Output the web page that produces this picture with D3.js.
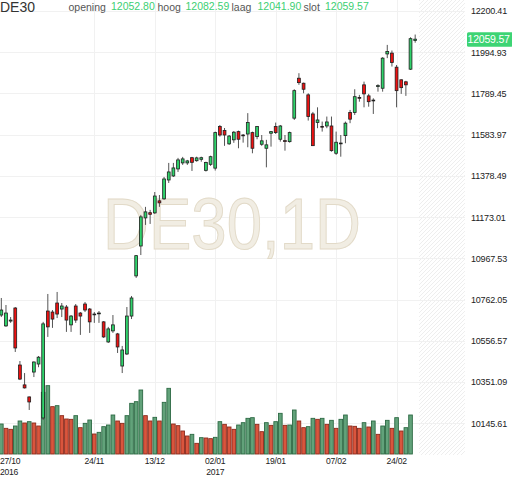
<!DOCTYPE html>
<html><head><meta charset="utf-8">
<script src="https://cdn.jsdelivr.net/npm/d3@7"></script>
<style>body{margin:0;background:#fff}svg{display:block;font-family:"Liberation Sans",Arial,sans-serif}</style>
</head><body><svg id="c" width="512" height="477"></svg>
<script>
const dates = ["27/10","28/10","31/10","01/11","02/11","03/11","04/11","07/11","08/11","09/11",
"10/11","11/11","14/11","15/11","16/11","17/11","18/11","21/11","22/11","23/11",
"24/11","25/11","28/11","29/11","30/11","01/12","02/12","05/12","06/12","07/12",
"08/12","09/12","12/12","13/12","14/12","15/12","16/12","19/12","20/12","21/12",
"22/12","23/12","27/12","28/12","29/12","30/12","02/01","03/01","04/01","05/01",
"06/01","09/01","10/01","11/01","12/01","13/01","16/01","17/01","18/01","19/01",
"20/01","23/01","24/01","25/01","26/01","27/01","30/01","31/01","01/02","02/02",
"03/02","06/02","07/02","08/02","09/02","10/02","13/02","14/02","15/02","16/02",
"17/02","20/02","21/02","22/02","23/02","24/02","27/02","28/02","01/03","02/03"];
const openP = [10685,10631,10655,10720,10436,10337,10277,10401,10441,10172,
10705,10700,10745,10715,10725,10636,10730,10695,10740,10715,
10688,10693,10651,10551,10606,10591,10431,10491,10680,10880,
11029,11169,11195,11194,11254,11264,11358,11378,11413,11443,
11443,11469,11454,11461,11406,11436,11417,11624,11604,11538,
11558,11599,11582,11587,11594,11574,11536,11516,11591,11624,
11561,11554,11549,11666,11865,11840,11782,11687,11644,11625,
11627,11627,11491,11540,11579,11694,11694,11769,11832,11777,
11756,11826,11815,11986,11990,11920,11857,11847,11910,12052.80];
const highP = [10770,10735,10675,10725,10456,10396,10279,10454,10481,10651,
10790,10710,10800,10745,10735,10685,10740,10700,10750,10720,
10700,10705,10655,10626,10685,10596,10531,10725,10780,10984,
11184,11224,11209,11298,11283,11373,11443,11443,11468,11473,
11458,11473,11474,11474,11449,11479,11599,11632,11617,11582,
11602,11604,11587,11691,11599,11627,11582,11558,11601,11644,
11632,11582,11599,11810,11890,11843,11790,11697,11720,11649,
11674,11674,11599,11582,11649,11707,11810,11782,11848,11787,
11765,11835,11970,12031,12003,11931,11860,11852,12069,12082.59];
const lowP = [10675,10626,10646,10501,10361,10319,10212,10376,10425,10162,
10576,10621,10670,10675,10601,10601,10646,10586,10700,10596,
10646,10646,10571,10546,10596,10496,10396,10486,10665,10870,
10984,11134,11139,11189,11224,11259,11343,11373,11398,11433,
11433,11403,11449,11449,11400,11428,11405,11574,11528,11533,
11543,11516,11544,11521,11491,11561,11528,11421,11524,11587,
11549,11504,11544,11657,11832,11790,11654,11527,11616,11599,
11616,11499,11483,11474,11541,11641,11682,11748,11720,11723,
11687,11798,11798,11965,11923,11720,11787,11777,11906,12041.90];
const closeP = [10710,10695,10660,10521,10366,10322,10252,10451,10475,10641,
10626,10665,10690,10730,10660,10680,10660,10680,10710,10651,
10690,10695,10576,10616,10636,10526,10511,10680,10770,10981,
11174,11199,11187,11278,11244,11363,11398,11418,11458,11463,
11453,11446,11468,11469,11445,11474,11594,11582,11582,11577,
11596,11561,11581,11644,11516,11624,11553,11533,11599,11594,
11627,11551,11594,11803,11843,11810,11674,11529,11657,11622,
11647,11504,11546,11542,11641,11661,11773,11767,11787,11748,
11754,11828,11965,11998,11943,11803,11818,11832,12062,12059.57];
const volumeK = [90,77,74,84,99,93,97,93,84,185,
205,142,145,115,105,104,115,79,92,102,
60,65,82,87,117,99,92,115,152,157,
192,115,99,110,99,155,197,90,85,69,
54,59,32,49,48,46,50,97,89,81,
74,87,94,107,109,89,67,94,86,97,
122,86,87,132,99,79,82,107,104,107,
89,101,77,104,117,84,83,77,94,81,
99,59,84,101,77,109,69,79,117,null];
const priceTicks = [10145.61,10351.09,10556.57,10762.05,10967.53,11173.01,11378.49,11583.97,11789.45,11994.93,12200.41];
const dateTickIdx = [0,20,33,46,59,72,85];
const yearAt = {0:"2016",46:"2017"};
const symbol = "DE30", period = "1D";
const ohlcLabels = ["opening","hoog","laag","slot"];

const svg = d3.select("#c");
const n = dates.length;
const plotR = 419, hatchR = 465;

const x = d3.scaleBand().domain(d3.range(n)).range([-1.0, -1.0 + n*4.65]).padding(0);
const cx = i => x(i) + x.bandwidth()/2;
const y = d3.scaleLinear().domain([10145.61, 12200.41]).range([423.3, 10.9]);
const yv = d3.scaleLinear().domain([0, 300]).range([454, 354]);

// hatch pattern (future area)
const defs = svg.append("defs");
const pat = defs.append("pattern").attr("id","hatch").attr("patternUnits","userSpaceOnUse")
  .attr("width",4).attr("height",4);
pat.append("path").attr("d","M-1,1 l2,-2 M0,4 l4,-4 M3,5 l2,-2")
  .attr("stroke","#e6e6e6").attr("stroke-width",0.7);
svg.append("rect").attr("x",plotR).attr("y",0).attr("width",hatchR-plotR).attr("height",455)
  .attr("fill","url(#hatch)");

// grid
svg.append("g").selectAll("line").data(priceTicks).join("line")
  .attr("x1",0).attr("x2",hatchR).attr("y1",d=>Math.round(y(d))+0.5).attr("y2",d=>Math.round(y(d))+0.5)
  .attr("stroke","#f1f1f1");
svg.append("g").selectAll("line").data(dateTickIdx.slice(1)).join("line")
  .attr("x1",d=>Math.round(cx(d))+0.5).attr("x2",d=>Math.round(cx(d))+0.5).attr("y1",0).attr("y2",455)
  .attr("stroke","#f1f1f1");

// watermark
svg.append("text").attr("x",232).attr("y",249).attr("text-anchor","middle")
  .attr("font-size",72).attr("textLength",258).attr("lengthAdjust","spacingAndGlyphs")
  .attr("fill","#f1ede3").attr("stroke","#e2dac8").attr("stroke-width",1)
  .text(symbol + "," + period);

// volume
const vdata = volumeK.map((v,i)=>({v,i})).filter(d=>d.v!=null);
const up = d => d.i===0 || d.v>volumeK[d.i-1];
svg.append("g").selectAll("rect").data(vdata).join("rect")
  .attr("x",d=>x(d.i)+0.5).attr("width",x.bandwidth()-1)
  .attr("y",d=>yv(d.v)).attr("height",d=>yv(0)-yv(d.v))
  .attr("fill",d=> up(d) ? "#62a27a" : "#d9553d")
  .attr("stroke",d=> up(d) ? "#2d6a44" : "#8c2b1c")
  .attr("stroke-width",0.9);

// candles
const cd = d3.range(n);
const g = svg.append("g");
g.selectAll("line").data(cd).join("line")
  .attr("x1",i=>cx(i)).attr("x2",i=>cx(i))
  .attr("y1",i=>y(highP[i])).attr("y2",i=>y(lowP[i]))
  .attr("stroke","#555").attr("stroke-width",1);
g.selectAll("rect").data(cd).join("rect")
  .attr("x",i=>cx(i)-1.4).attr("width",2.8)
  .attr("y",i=>y(Math.max(openP[i],closeP[i])))
  .attr("height",i=>Math.max(0.8, Math.abs(y(openP[i])-y(closeP[i]))))
  .attr("fill",i=>closeP[i]>=openP[i] ? "#2fd36b" : "#ee1111")
  .attr("stroke","#1e1e1e").attr("stroke-width",0.8);

// right axis labels
svg.append("g").selectAll("text").data(priceTicks).join("text")
  .attr("x",471).attr("y",d=>y(d)+3.4).attr("font-size",9).attr("letter-spacing",-0.2)
  .attr("fill","#222").text(d=>d.toFixed(2));

// last price tag
const last = closeP[n-1];
svg.append("rect").attr("x",467).attr("y",y(last)-7).attr("width",46).attr("height",14.5)
  .attr("rx",1.5).attr("fill","#3dd474");
svg.append("text").attr("x",467.5).attr("y",y(last)+3.9).attr("font-size",10.5).attr("letter-spacing",-0.2)
  .attr("fill","#fff").text(last.toFixed(2));

// bottom labels
const xl = svg.append("g").attr("font-size",8.6).attr("letter-spacing",-0.25).attr("fill","#222");
dateTickIdx.forEach(i=>{
  const first = i===0;
  xl.append("text").attr("x", first?0:cx(i)).attr("y",464.3)
    .attr("text-anchor", first?"start":"middle").text(dates[i]);
  if (yearAt[i]) xl.append("text").attr("x", first?0:cx(i)).attr("y",474.5)
    .attr("text-anchor", first?"start":"middle").text(yearAt[i]);
});

// header
svg.append("text").attr("x",0).attr("y",11.5).attr("font-size",14).attr("fill","#333").text(symbol);
const hv = [openP[n-1],highP[n-1],lowP[n-1],closeP[n-1]];
const lx = [68.5,157.5,231.5,303.5], vx = [111,185.5,257.5,325];
ohlcLabels.forEach((l,k)=>{
  svg.append("text").attr("x",lx[k]).attr("y",11).attr("font-size",10.5).attr("fill","#555").text(l);
  svg.append("text").attr("x",vx[k]).attr("y",9.6).attr("font-size",10.5).attr("fill","#3ccf72").text(hv[k].toFixed(2));
});
</script></body></html>
